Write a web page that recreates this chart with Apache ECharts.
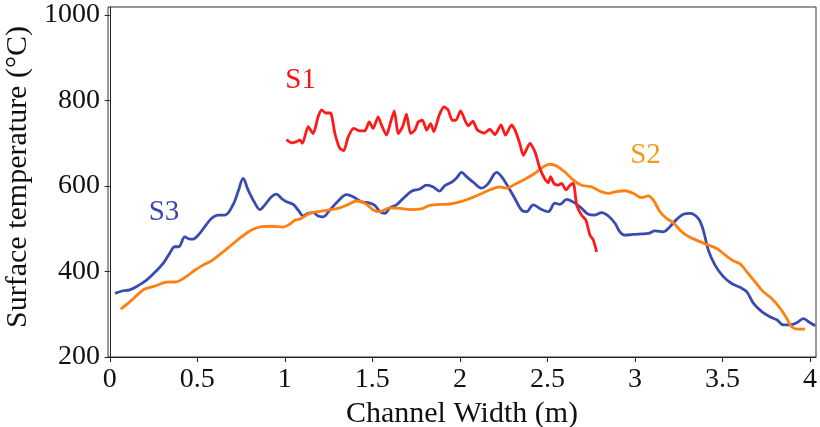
<!DOCTYPE html>
<html>
<head>
<meta charset="utf-8">
<script src="https://cdn.jsdelivr.net/npm/echarts@6/dist/echarts.min.js"></script>
<style>html,body{margin:0;padding:0;background:#fff;}#c{width:820px;height:427px;}</style>
</head>
<body>
<div id="c"></div>
<script>
const xTicks = [0, 0.5, 1, 1.5, 2, 2.5, 3, 3.5, 4];
const yTicks = [200, 400, 600, 800, 1000];

const s1 = [[1.01,709],[1.038,701],[1.067,704],[1.086,708],[1.101,700],[1.133,739],[1.162,723],[1.19,762],[1.21,778],[1.234,771],[1.261,771],[1.286,723],[1.314,688],[1.337,683],[1.362,715],[1.394,735],[1.429,729],[1.457,729],[1.482,750],[1.505,735],[1.533,762],[1.552,743],[1.581,719],[1.6,743],[1.625,776],[1.648,723],[1.673,739],[1.695,768],[1.718,723],[1.743,731],[1.762,750],[1.786,754],[1.81,731],[1.833,746],[1.851,727],[1.882,766],[1.909,785],[1.933,778],[1.956,754],[1.977,754],[2.004,776],[2.033,750],[2.048,741],[2.074,752],[2.1,731],[2.14,724],[2.171,733],[2.2,720],[2.235,743],[2.26,719],[2.295,743],[2.318,728],[2.343,698],[2.362,672],[2.4,700],[2.429,680],[2.457,641],[2.486,616],[2.505,608],[2.518,622],[2.537,606],[2.562,602],[2.581,606],[2.606,591],[2.629,602],[2.648,606],[2.667,556],[2.695,532],[2.72,520],[2.743,485],[2.762,474],[2.781,446]];

const s2 = [[0.063,312],[0.114,329],[0.162,347],[0.2,359],[0.257,366],[0.324,375],[0.381,376],[0.429,386],[0.486,403],[0.533,415],[0.581,425],[0.638,443],[0.695,462],[0.752,481],[0.81,497],[0.867,505],[0.924,506],[0.99,504],[1.029,511],[1.057,520],[1.086,523],[1.143,536],[1.2,541],[1.257,544],[1.314,549],[1.362,557],[1.41,565],[1.457,560],[1.505,544],[1.543,540],[1.6,549],[1.657,548],[1.714,545],[1.771,546],[1.829,555],[1.886,557],[1.943,558],[2.0,563],[2.057,571],[2.114,581],[2.171,591],[2.229,598],[2.267,595],[2.314,604],[2.371,616],[2.429,630],[2.476,645],[2.514,651],[2.552,647],[2.6,633],[2.648,614],[2.695,602],[2.752,598],[2.8,588],[2.848,583],[2.895,587],[2.943,589],[2.99,583],[3.038,573],[3.076,577],[3.105,567],[3.143,540],[3.181,524],[3.219,514],[3.267,493],[3.314,480],[3.371,470],[3.419,462],[3.467,454],[3.514,439],[3.562,425],[3.6,418],[3.638,400],[3.686,376],[3.733,353],[3.781,337],[3.829,314],[3.867,290],[3.895,271],[3.933,265],[3.971,265]];

const s3 = [[0.03,349],[0.076,355],[0.114,357],[0.162,367],[0.21,380],[0.257,398],[0.305,419],[0.343,443],[0.371,458],[0.394,458],[0.429,481],[0.457,476],[0.476,476],[0.505,485],[0.543,505],[0.581,524],[0.619,532],[0.657,532],[0.705,557],[0.733,587],[0.762,618],[0.79,591],[0.829,560],[0.857,545],[0.886,556],[0.924,575],[0.952,581],[0.981,571],[1.01,563],[1.048,557],[1.076,544],[1.105,530],[1.133,536],[1.162,538],[1.19,530],[1.219,528],[1.257,544],[1.305,565],[1.352,580],[1.39,575],[1.438,563],[1.476,561],[1.514,555],[1.543,540],[1.571,536],[1.6,549],[1.638,556],[1.676,571],[1.724,588],[1.771,593],[1.81,602],[1.848,598],[1.882,588],[1.914,601],[1.952,609],[1.981,619],[2.01,632],[2.038,622],[2.076,609],[2.124,595],[2.162,606],[2.21,632],[2.238,622],[2.276,598],[2.314,571],[2.352,544],[2.381,540],[2.419,556],[2.467,545],[2.505,540],[2.543,560],[2.571,557],[2.61,569],[2.657,560],[2.695,548],[2.733,534],[2.771,532],[2.81,538],[2.848,530],[2.886,513],[2.914,493],[2.943,485],[2.99,487],[3.038,488],[3.076,489],[3.114,495],[3.162,493],[3.2,505],[3.238,522],[3.276,534],[3.314,536],[3.362,524],[3.39,497],[3.419,450],[3.457,415],[3.505,388],[3.552,372],[3.6,363],[3.638,353],[3.676,326],[3.724,306],[3.771,294],[3.81,287],[3.848,275],[3.886,275],[3.924,280],[3.962,290],[3.99,283],[4.029,273]];

const labelNames = ['S1', 'S2', 'S3'];
const labelX = [1.09, 3.06, 0.31];
const labelY = [848, 672, 539];
const labelColors = ['#ff1010', '#f59a18', '#3a48b0'];

const serif = '"Liberation Serif", "DejaVu Serif", serif';
const chart = echarts.init(document.getElementById('c'));
chart.setOption({
  animation: false,
  backgroundColor: '#fff',
  grid: { left: 108, right: 4, top: 7, bottom: 70, containLabel: false, outerBoundsMode: 'none',
    show: true, borderColor: '#333', borderWidth: 1, backgroundColor: 'transparent' },
  xAxis: {
    type: 'value', min: -0.01, max: 4.034,
    splitLine: { show: false },
    axisLine: { lineStyle: { color: '#222', width: 1 } },
    axisTick: { show: true, inside: false, length: 5, lineStyle: { color: '#222' }, customValues: xTicks },
    axisLabel: { customValues: xTicks, formatter: v => String(v), color: '#111', fontFamily: serif, fontSize: 28, margin: 9 },
    name: 'Channel Width (m)', nameLocation: 'middle', nameGap: 35,
    nameTextStyle: { color: '#111', fontFamily: serif, fontSize: 30 }
  },
  yAxis: {
    type: 'value', min: 200, max: 1019,
    splitLine: { show: false },
    axisLine: { show: true, lineStyle: { color: '#222', width: 1 } },
    axisTick: { show: true, inside: false, length: 5, lineStyle: { color: '#222' }, customValues: yTicks },
    axisLabel: { customValues: yTicks, formatter: v => String(v), color: '#111', fontFamily: serif, fontSize: 28, margin: 8 },
    name: 'Surface temperature (°C)', nameLocation: 'middle', nameGap: 72, nameRotate: 90,
    nameTextStyle: { color: '#111', fontFamily: serif, fontSize: 30, padding: [0, 0, 0, 10] }
  },
  series: [
    { type: 'line', data: s3, showSymbol: false, smooth: 0.35, lineStyle: { color: '#3a4bb0', width: 2.8 }, silent: true, z: 2 },
    { type: 'line', data: s2, showSymbol: false, smooth: 0.35, lineStyle: { color: '#ff7f10', width: 2.8 }, silent: true, z: 3 },
    { type: 'line', data: s1, showSymbol: false, smooth: 0.2, lineStyle: { color: '#ff1a1a', width: 2.8 }, silent: true, z: 4 },
    {
      type: 'scatter', symbol: 'circle', symbolSize: 0, itemStyle: { color: 'rgba(0,0,0,0)', opacity: 1 }, silent: true, z: 5,
      data: labelNames.map((n, i) => ({ name: n, value: [labelX[i], labelY[i]],
        label: { show: true, position: 'inside', formatter: n, color: labelColors[i], opacity: 1, fontFamily: serif, fontSize: 29, align: 'center', verticalAlign: 'middle' } }))
    }
  ]
});
</script>
</body>
</html>
